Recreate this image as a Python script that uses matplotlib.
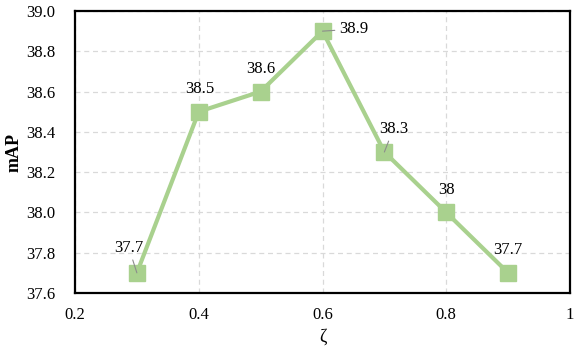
import matplotlib
matplotlib.use("Agg")
import matplotlib.pyplot as plt

zeta = [0.3, 0.4, 0.5, 0.6, 0.7, 0.8, 0.9]
mAP = [37.7, 38.5, 38.6, 38.9, 38.3, 38.0, 37.7]
labels = ["37.7", "38.5", "38.6", "38.9", "38.3", "38", "37.7"]
xticks = [0.2, 0.4, 0.6, 0.8, 1.0]
xticklabels = ["0.2", "0.4", "0.6", "0.8", "1"]
yticks = [37.6, 37.8, 38.0, 38.2, 38.4, 38.6, 38.8, 39.0]
yticklabels = ["37.6", "37.8", "38.0", "38.2", "38.4", "38.6", "38.8", "39.0"]

# label offsets in pixels (dx, dy), and whether a leader line is drawn
offsets = [(-8, 25), (1, 23), (0, 23), (31, 2), (9, 23), (0, 22), (0, 23)]
leaders = [True, False, False, True, True, False, False]

plt.rcParams['font.family'] = ['Liberation Serif', 'DejaVu Serif']

fig = plt.figure(figsize=(5.81, 3.54), dpi=100)
ax = fig.add_axes([75/581, 61/354, 495/581, 282/354])

green = '#A9D18E'
ax.plot(zeta, mAP, color=green, lw=3, marker='s', markersize=12,
        markerfacecolor=green, markeredgecolor=green, zorder=3)

for x, y, lab, (dx, dy), ld in zip(zeta, mAP, labels, offsets, leaders):
    kw = {}
    if ld:
        kw['arrowprops'] = dict(arrowstyle='-', color='#8C8C8C', lw=0.8,
                                shrinkA=1, shrinkB=0)
    ax.annotate(lab, xy=(x, y), xytext=(dx, dy), textcoords='offset pixels',
                ha='center', va='center', fontsize=12, color='black',
                zorder=5, **kw)

ax.set_xlim(0.2, 1.0)
ax.set_ylim(37.6, 39.0)
ax.set_xticks(xticks)
ax.set_xticklabels(xticklabels)
ax.set_yticks(yticks)
ax.set_yticklabels(yticklabels)
ax.tick_params(axis='both', length=0, labelsize=12, colors='black')
ax.tick_params(axis='y', pad=14)
ax.tick_params(axis='x', pad=10)

ax.grid(True, color='#D9D9D9', linestyle=(0, (4, 3)), lw=0.9, zorder=0)
ax.set_axisbelow(True)
for s in ax.spines.values():
    s.set_linewidth(1.6)
    s.set_color('black')

ax.set_ylabel('mAP', fontsize=13, fontweight='bold', labelpad=3)
ax.set_xlabel('ζ', fontsize=13, labelpad=4)

fig.savefig('out.png', dpi=100)
